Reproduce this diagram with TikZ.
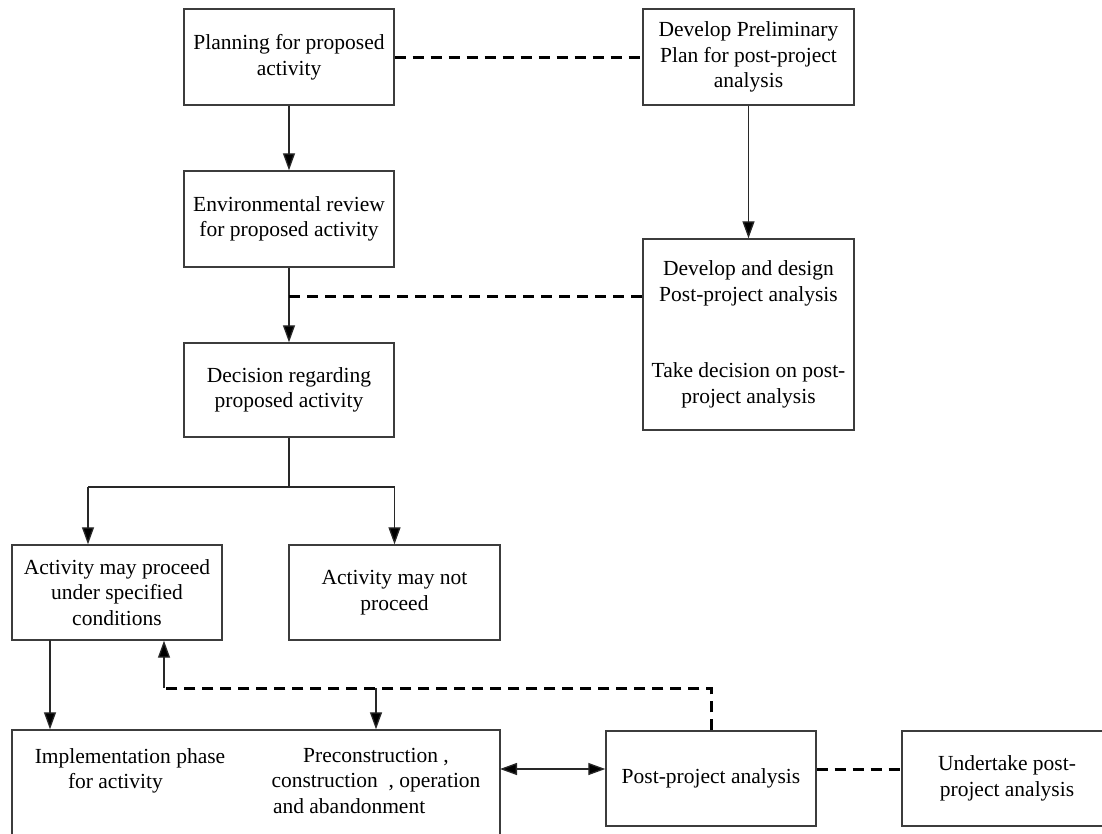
\documentclass[tikz,border=0pt]{standalone}
\usepackage{fontspec}
\setmainfont{Liberation Serif}
\usetikzlibrary{arrows.meta}
\definecolor{boxline}{RGB}{60,60,60}
\definecolor{conline}{RGB}{40,40,40}
\tikzset{
  box/.style={draw=boxline, line width=1.4pt, minimum width=210pt, inner sep=0pt, align=center,
    font=\fontsize{21.5}{25.5}\selectfont},
  txt/.style={inner sep=0pt, align=center, font=\fontsize{21.5}{25.5}\selectfont},
  arr/.style={draw=conline, line width=1.3pt, -{Triangle[length=17pt,width=12pt,fill=black]}},
  arrb/.style={draw=conline, line width=1.3pt, {Triangle[length=17pt,width=12pt,fill=black]}-{Triangle[length=17pt,width=12pt,fill=black]}},
  plain/.style={draw=conline, line width=1.3pt},
  dsh/.style={draw=black, line width=3pt, dash pattern=on 11pt off 7pt}
}
\begin{document}
\begin{tikzpicture}[x=1pt,y=-1pt]
\useasboundingbox (0,0) rectangle (1102,833);
\clip (0,0) rectangle (1102,833);
% boxes
\node[box, minimum height=96pt] (plan) at (289,57) {Planning for proposed\\activity};
\node[box, minimum width=211pt, minimum height=96pt] (prelim) at (748.5,57) {Develop Preliminary\\Plan for post-project\\analysis};
\node[box, minimum height=96pt] (env) at (289,219) {Environmental review\\for proposed activity};
\node[box, minimum height=94pt] (dec) at (289,390) {Decision regarding\\proposed activity};
\node[box, minimum width=211pt, minimum height=191pt] (design) at (748.5,334.5)
  {Develop and design\\Post-project analysis\\[51pt]Take decision on post-\\project analysis};
\node[box, minimum height=95pt] (proceed) at (117,592.5) {Activity may proceed\\under specified\\conditions};
\node[box, minimum width=211pt, minimum height=95pt] (notp) at (394.5,592.5) {Activity may not\\proceed};
\node[box, minimum width=488pt, minimum height=130pt] (impl) at (256,795) {};
\node[txt, anchor=north] (impla) at (130,748) {Implementation phase\\\makebox[124pt][l]{for activity}};
\node[txt, anchor=north] (implb) at (376,748) {Preconstruction ,\\construction\ \ , operation\\\makebox[206pt][l]{and abandonment}};
\node[box, minimum height=95pt] (post) at (711,778.5) {Post-project analysis};
\node[box, minimum height=95pt] (under) at (1007,778.5) {Undertake post-\\project analysis};
% coordinates
\coordinate (dj) at (289,296);
\coordinate (split) at (289,487);
\coordinate (lp) at (88,487);
\coordinate (pa) at (50,640);
\coordinate (fb) at (164,688);
\coordinate (mid) at (376,688);
\coordinate (bd) at (500,769);
% solid connectors
\draw[arr] (plan) -- (env);
\draw[arr] (env) -- (dec);
\draw[arr] (prelim) -- (design);
\draw[plain] (dec.south) -- (split);
\draw[arr] (lp) -- (lp |- proceed.north);
\draw[arr] (lp) -| (notp.north);
\draw[arr] (pa) -- (pa |- impl.north);
\draw[arr] (fb) -- (fb |- proceed.south);
\draw[arr] (mid) -- (mid |- impl.north);
\draw[arrb] (bd) -- (bd -| post.west);
% dashed connectors
\draw[dsh] (plan.east) -- (prelim.west);
\draw[dsh] (dj) -- (dj -| design.west);
\draw[dsh] (post.north) -- (post.north |- fb) -- (fb);
\draw[dsh] (bd -| post.east) -- (bd -| under.west);
\end{tikzpicture}
\end{document}
